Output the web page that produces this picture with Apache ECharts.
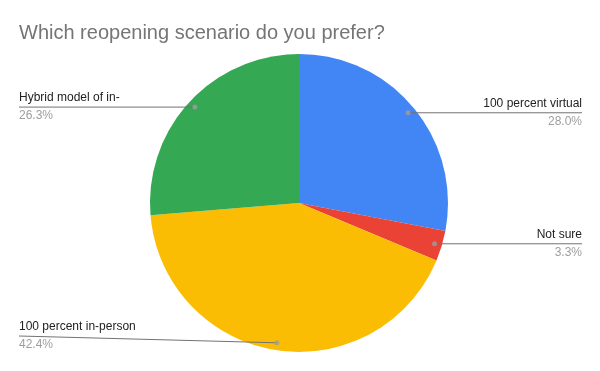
<!DOCTYPE html>
<html><head><meta charset="utf-8">
<script src="https://cdn.jsdelivr.net/npm/echarts@6/dist/echarts.min.js"></script>
<style>html,body{margin:0;padding:0;background:#fff}#c{width:600px;height:371px}</style>
</head><body><div id="c"></div>
<script>
const titleText = 'Which reopening scenario do you prefer?';
const categories = ['100 percent virtual', 'Not sure', '100 percent in-person', 'Hybrid model of in-'];
const values = [28.0, 3.3, 42.4, 26.3];
const colors = ['#4285F4', '#EA4335', '#FBBC04', '#34A853'];

const W = 600, H = 371, CX = 299, CY = 203, R = 149;
const total = values.reduce((a, b) => a + b, 0);
const mids = [];
let acc = 0;
values.forEach(v => { mids.push((acc + v / 2) / total); acc += v; });
const ANCHOR_FRAC = 0.95;
function anchor(i) {
  const a = mids[i] * 2 * Math.PI;
  const rr = R * ANCHOR_FRAC;
  return [CX + rr * Math.sin(a), CY - rr * Math.cos(a)];
}
const FONT = '"Liberation Sans", Arial, sans-serif';

const chart = echarts.init(document.getElementById('c'), null, {renderer: 'canvas'});
chart.setOption({
  animation: false,
  backgroundColor: '#ffffff',
  title: {
    text: titleText, left: 14, top: 18,
    textStyle: {fontFamily: FONT, fontSize: 20, fontWeight: 'normal', color: '#757575'}
  },
  polar: {center: [CX, CY], radius: R},
  angleAxis: {type: 'value', min: 0, max: 1, startAngle: 90, clockwise: true, show: false},
  radiusAxis: {type: 'value', min: 0, max: 1, show: false},
  series: [{
    type: 'pie',
    z: 2,
    center: [CX, CY],
    radius: [0, R],
    startAngle: 90,
    clockwise: true,
    data: categories.map((c, i) => ({name: c, value: values[i], itemStyle: {color: colors[i]}})),
    label: {show: false},
    labelLine: {show: false},
    emphasis: {disabled: true},
    silent: true
  }, {
    type: 'pie',
    z: 5,
    center: [CX, CY],
    radius: [0, R],
    startAngle: 90,
    clockwise: true,
    avoidLabelOverlap: false,
    data: categories.map((c, i) => ({name: c, value: values[i], itemStyle: {color: 'rgba(0,0,0,0)'}})),
    label: {
      show: true,
      position: 'outside',
      formatter: p => '{n|' + p.name + '}\n{p|' + values[p.dataIndex].toFixed(1) + '%}',
      rich: {
        n: {fontFamily: FONT, fontSize: 12, color: '#222222', lineHeight: 18},
        p: {fontFamily: FONT, fontSize: 12, color: '#9e9e9e', lineHeight: 18}
      }
    },
    labelLine: {show: true, smooth: false, lineStyle: {color: '#737373', width: 1}},
    labelLayout: function (p) {
      const i = p.dataIndex;
      const an = anchor(i);
      const right = an[0] > CX;
      const y = Math.min(an[1], H - 35);
      const x = right ? W - 18 : 19;
      return {x: x, y: y, align: right ? 'right' : 'left', verticalAlign: 'middle',
        labelLinePoints: [an, [x, y], [x, y]]};
    },
    emphasis: {disabled: true},
    silent: true
  }, {
    type: 'scatter',
    coordinateSystem: 'polar',
    data: mids.map(m => [ANCHOR_FRAC, m]),
    symbolSize: 5,
    itemStyle: {color: '#9e9e9e'},
    z: 10,
    silent: true
  }]
});
</script></body></html>
